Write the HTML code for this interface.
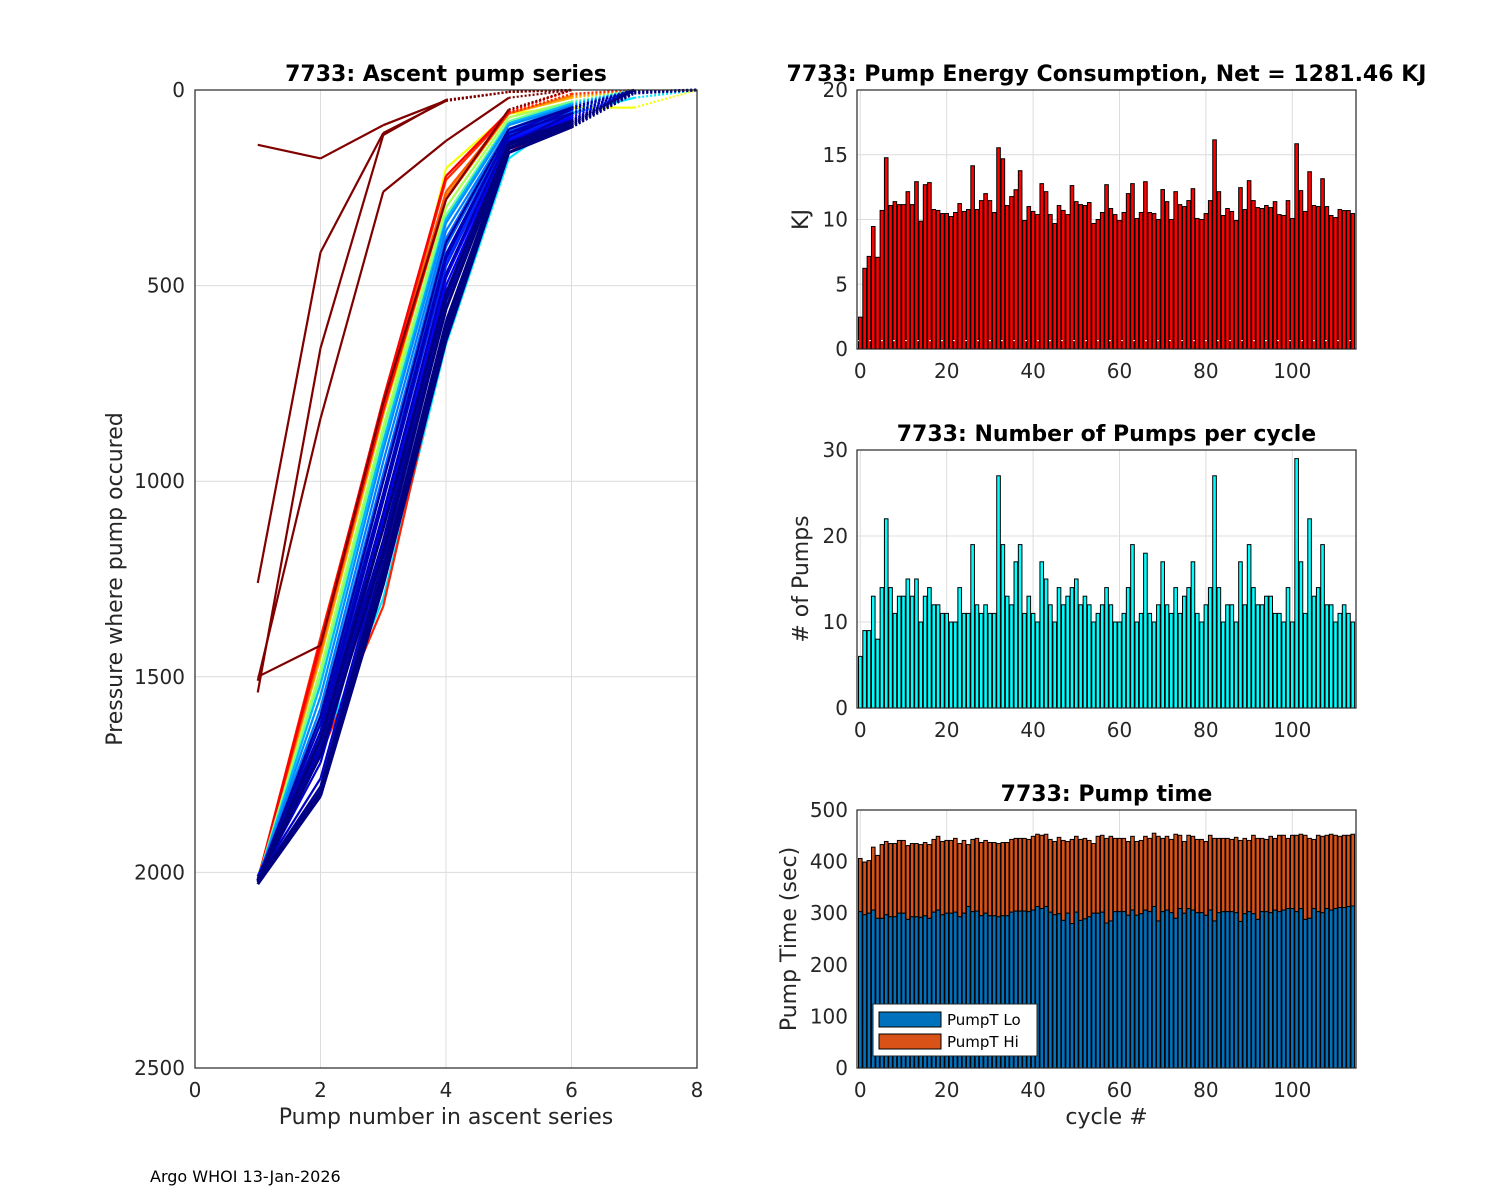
<!DOCTYPE html>
<html><head><meta charset="utf-8"><style>
html,body{margin:0;padding:0;background:#fff;}
svg{display:block;font-family:"DejaVu Sans","Liberation Sans",sans-serif;}
</style></head><body>
<svg id="fig" width="1500" height="1200" viewBox="0 0 1500 1200" xmlns="http://www.w3.org/2000/svg">
<rect width="1500" height="1200" fill="#fff"/>
<g id="left"></g>
<g id="top"></g>
<g id="mid"></g>
<g id="bot"></g>
<text x="150" y="1182" font-size="16" fill="#000">Argo WHOI 13-Jan-2026</text>
</svg>
<script>
// ---------- data ----------
const energyKJ = [2.46,6.23,7.15,9.46,7.08,10.7,14.77,11.08,11.38,11.15,11.15,12.15,11.15,12.92,9.87,12.69,12.85,10.77,10.7,10.46,10.46,10.23,10.54,11.23,10.62,10.77,14.15,10.77,11.46,12.0,11.46,10.54,15.54,14.69,11.08,11.77,12.3,13.77,9.92,11.0,10.62,10.38,12.77,12.15,10.38,9.69,11.08,10.7,10.38,12.62,11.38,11.15,11.08,11.31,9.69,10.0,10.54,12.69,10.85,10.38,9.92,10.54,12.0,12.77,10.08,10.54,12.92,10.54,10.46,10.0,12.31,11.38,10.0,12.15,11.15,11.0,11.46,12.38,10.08,10.0,10.46,11.46,16.15,12.15,10.31,10.85,10.62,9.92,12.46,10.77,13.0,11.46,10.92,10.85,11.08,10.92,11.38,10.38,10.31,11.46,10.08,15.85,12.23,10.62,13.69,11.08,11.0,13.15,11.0,10.31,10.15,10.77,10.69,10.69,10.46];
const pumpCount = [6,9,9,13,8,14,22,14,11,13,13,15,13,15,10,13,14,12,12,11,11,10,10,14,11,11,19,12,11,12,11,11,27,19,13,12,17,19,11,13,11,10,17,15,12,10,14,12,13,14,15,12,13,12,10,11,12,14,12,10,10,11,14,19,10,11,18,11,10,12,17,12,11,14,11,13,14,17,11,10,12,14,27,14,10,12,12,10,17,12,19,14,12,12,13,13,11,11,10,14,10,29,17,11,22,13,14,19,12,12,10,11,12,11,10];
const pumpTotal = [406,399,402,428,412,433,439,435,435,441,441,431,435,435,433,437,433,443,449,439,441,441,445,435,441,433,443,445,437,441,437,437,435,437,437,443,445,445,445,443,449,453,451,453,443,439,447,441,439,443,449,443,445,441,435,449,451,445,449,445,445,445,439,449,439,441,449,445,455,449,445,449,443,453,451,439,451,449,443,443,439,451,445,445,445,445,443,447,441,445,441,451,445,445,443,449,445,451,451,445,451,451,453,451,445,443,451,449,451,453,451,449,451,451,453];
const pumpLo = [303,297,300,306,290,290,297,293,293,300,300,288,293,293,292,295,290,302,306,297,300,300,302,293,300,313,303,304,295,300,295,295,293,295,295,302,304,304,304,303,306,313,309,313,302,297,299,286,300,280,302,286,289,293,300,300,302,281,285,303,303,303,296,306,296,299,306,303,313,285,303,306,301,290,309,300,309,306,301,301,296,306,285,301,303,303,303,301,284,299,303,299,288,303,303,301,306,303,306,309,309,303,309,288,290,309,303,301,309,306,309,311,311,313,314];
// ascent profiles: first value = colour index (0..114, jet), rest = pressure at pump 1..n
const profiles = [
 [40,2020,1690,1300,650,175,60,20,0],
 [96,2020,1700,1320,620,160,70,0],
 [70,2010,1500,880,200,60,45,45,0],
 [80,2020,1450,830,280,60,20,0],
 [85,2020,1440,820,270,60,15,0],
 [90,2020,1430,810,260,60,10,0],
 [95,2020,1400,800,230,60,10,0],
 [98,2020,1420,820,280,55,0],
 [100,2020,1410,790,220,55,0],
 [62,2020,1480,860,300,70,30,0],
 [55,2020,1500,880,320,80,30,0],
 [35,2020,1520,900,330,85,35,0],
 [30,2020,1550,920,340,90,40,0],
 [28,2020,1580,950,360,100,40,0],
 [26,2020,1600,980,380,100,50,0],
 [24,2020,1610,990,400,105,55,0],
 [22,2010,1620,1000,420,110,60,0],
 [20,2020,1640,1040,440,115,62,0],
 [18,2020,1650,1050,450,120,60,0],
 [16,2018,1670,1090,470,125,65,0],
 [14,2010,1680,1100,480,130,70,0],
 [12,2020,1690,1120,500,135,75,0],
 [10,2015,1700,1150,520,140,80,0],
 [9,2020,1720,1160,530,135,78,0],
 [8,2015,1760,1180,540,140,82,0],
 [7,2020,1620,1030,420,110,45,0],
 [6,2020,1640,1050,430,110,60,0],
 [5,2020,1660,1080,470,120,50,0],
 [4,2020,1680,1150,540,140,60,0],
 [3,2020,1600,1000,390,100,45,0],
 [2,2020,1780,1200,560,140,85,0],
 [2,2025,1790,1220,590,150,88,0],
 [1,2025,1800,1240,610,150,90,5,0],
 [0,2030,1805,1265,640,160,95,8,0],
 [0,2025,1800,1250,620,150,92,5,0],
 [0,2020,1795,1230,600,148,90,0],
 [0,2022,1700,1180,560,140,85,0],
 [0,2020,1660,1120,520,135,80,0],
 [114,140,175,90,27,5,0],
 [114,1260,415,110,28,5,0],
 [114,1540,660,115,25,5,0],
 [114,1510,840,260,130,20,0],
 [114,1500,1420,800,280,50,0]
];
const leftXTicks = [0,2,4,6,8];
const leftYTicks = [0,500,1000,1500,2000,2500];
const cycleTicks = [0,20,40,60,80,100];
const energyTicks = [0,5,10,15,20];
const pumpTicks = [0,10,20,30];
const timeTicks = [0,100,200,300,400,500];

// ---------- helpers ----------
const NS = "http://www.w3.org/2000/svg";
function mk(parent, tag, attrs, text){
  const e = document.createElementNS(NS, tag);
  for (const k in attrs) e.setAttribute(k, attrs[k]);
  if (text !== undefined) e.textContent = text;
  parent.appendChild(e);
  return e;
}
function jet(t){
  const c = v => Math.round(255*Math.max(0,Math.min(1,v)));
  return `rgb(${c(1.5-Math.abs(4*t-3))},${c(1.5-Math.abs(4*t-2))},${c(1.5-Math.abs(4*t-1))})`;
}
const TXT = "#262626";

// ---------- left chart ----------
(function(){
  const g = document.getElementById('left');
  const L=195,R=697,T=90,B=1068;
  const lx = v => L + v*(R-L)/8;
  const ly = p => T + p*(B-T)/2500;
  leftXTicks.forEach(v=>{
    const gl = mk(g,'line',{x1:lx(v),x2:lx(v),y1:T,y2:B,stroke:'#dcdcdc','stroke-width':1});
     
    const t = mk(g,'text',{x:lx(v),y:B+29,'font-size':20,fill:TXT,'text-anchor':'middle'},String(v));
     
  });
  leftYTicks.forEach(v=>{
    const gl = mk(g,'line',{x1:L,x2:R,y1:ly(v),y2:ly(v),stroke:'#dcdcdc','stroke-width':1});
     
    const t = mk(g,'text',{x:L-10,y:ly(v)+7,'font-size':20,fill:TXT,'text-anchor':'end'},String(v));
     
  });
  profiles.forEach(pr=>{
    const col = jet(pr[0]/114);
    const ps = pr.slice(1);
    const w = pr[0] === 0 ? 3 : 2.2;
    for (let i=0;i<ps.length-1;i++){
      const dotted = Math.min(ps[i],ps[i+1]) < 12;
      const seg = mk(g,'line',{x1:lx(i+1),y1:ly(ps[i]),x2:lx(i+2),y2:ly(ps[i+1]),stroke:col,'stroke-width':w,'stroke-dasharray':dotted?'2 2':'none'});
      
      
    }
  });
  const box = mk(g,'rect',{x:L,y:T,width:R-L,height:B-T,fill:'none',stroke:'#262626','stroke-width':1.2});
   
  const tt = mk(g,'text',{x:(L+R)/2,y:81,'font-size':22,'font-weight':'bold','text-anchor':'middle',fill:'#000'},'7733: Ascent pump series');
   
  const xl = mk(g,'text',{x:(L+R)/2,y:1124,'font-size':22,'text-anchor':'middle',fill:TXT},'Pump number in ascent series');
   
  const yl = mk(g,'text',{x:0,y:0,'font-size':22,'text-anchor':'middle',fill:TXT,transform:`translate(122,${(T+B)/2}) rotate(-90)`},'Pressure where pump occured');
   
})();

// ---------- right charts ----------
const RL=857, RR=1356;
const rx = c => 860.3 + c*4.32;
const BW = 3.6;
function frame(g,T,B,ymax,yticks,title,ylabel,ylabX,xlabel){
  cycleTicks.forEach(v=>{
    const gl = mk(g,'line',{x1:rx(v),x2:rx(v),y1:T,y2:B,stroke:'#dcdcdc','stroke-width':1});
     
    const t = mk(g,'text',{x:rx(v),y:B+29,'font-size':20,fill:TXT,'text-anchor':'middle'},String(v));
     
  });
  yticks.forEach(v=>{
    const y = B - v*(B-T)/ymax;
    const gl = mk(g,'line',{x1:RL,x2:RR,y1:y,y2:y,stroke:'#dcdcdc','stroke-width':1});
     
    const t = mk(g,'text',{x:RL-9,y:y+7,'font-size':20,fill:TXT,'text-anchor':'end'},String(v));
     
  });
  const tt = mk(g,'text',{x:(RL+RR)/2,y:T-9,'font-size':22,'font-weight':'bold','text-anchor':'middle',fill:'#000','xml:space':'preserve'},title);
   
  const yl = mk(g,'text',{x:0,y:0,'font-size':22,'text-anchor':'middle',fill:TXT,transform:`translate(${ylabX},${(T+B)/2}) rotate(-90)`},ylabel);
   
  if (xlabel){
    const xl = mk(g,'text',{x:(RL+RR)/2,y:1124,'font-size':22,'text-anchor':'middle',fill:TXT},xlabel);
     
  }
}
function finishFrame(g,T,B){
  const box = mk(g,'rect',{x:RL,y:T,width:RR-RL,height:B-T,fill:'none',stroke:'#262626','stroke-width':1.2});
   
}

// energy
(function(){
  const g = document.getElementById('top');
  const T=90,B=349,ymax=20;
  frame(g,T,B,ymax,energyTicks,'7733: Pump Energy Consumption,  Net = 1281.46 KJ','KJ',808,null);
  const y = v => B - v*(B-T)/ymax;
  energyKJ.forEach((v,i)=>{
    const r = mk(g,'rect',{x:rx(i)-BW/2,y:y(v),width:BW,height:B-y(v),fill:'#ff0000',stroke:'#000','stroke-width':1});
    
    
  });
  const dl = mk(g,'line',{x1:RL,x2:RR,y1:y(0.65),y2:y(0.65),stroke:'#fff','stroke-width':1,'stroke-dasharray':'2 10'});
   
  finishFrame(g,T,B);
})();

// pumps
(function(){
  const g = document.getElementById('mid');
  const T=450,B=708,ymax=30;
  frame(g,T,B,ymax,pumpTicks,'7733: Number of Pumps per cycle','# of Pumps',808,null);
  const y = v => B - v*(B-T)/ymax;
  pumpCount.forEach((v,i)=>{
    const r = mk(g,'rect',{x:rx(i)-BW/2,y:y(v),width:BW,height:B-y(v),fill:'#00ffff',stroke:'#000','stroke-width':1});
    
    
  });
  finishFrame(g,T,B);
})();

// pump time
(function(){
  const g = document.getElementById('bot');
  const T=810,B=1068,ymax=500;
  frame(g,T,B,ymax,timeTicks,'7733: Pump time','Pump Time (sec)',796,'cycle #');
  const y = v => B - v*(B-T)/ymax;
  pumpTotal.forEach((v,i)=>{
    const r = mk(g,'rect',{x:rx(i)-BW/2,y:y(v),width:BW,height:y(pumpLo[i])-y(v),fill:'#D95319',stroke:'#000','stroke-width':1});
    
    
  });
  pumpLo.forEach((v,i)=>{
    const r = mk(g,'rect',{x:rx(i)-BW/2,y:y(v),width:BW,height:B-y(v),fill:'#0072BD',stroke:'#000','stroke-width':1});
    
    
  });
  finishFrame(g,T,B);
  const lg = mk(g,'g',{});
   
  const lb = mk(lg,'rect',{x:873,y:1004,width:164,height:52,fill:'#fff',stroke:'#262626','stroke-width':1});
   
  const s1 = mk(lg,'rect',{x:879,y:1012,width:62,height:15,fill:'#0072BD',stroke:'#000','stroke-width':1});
   
  const t1 = mk(lg,'text',{x:947,y:1025,'font-size':15,fill:'#000'},'PumpT Lo');
   
  const s2 = mk(lg,'rect',{x:879,y:1034,width:62,height:15,fill:'#D95319',stroke:'#000','stroke-width':1});
   
  const t2 = mk(lg,'text',{x:947,y:1047,'font-size':15,fill:'#000'},'PumpT Hi');
   
})();
</script>
</body></html>
